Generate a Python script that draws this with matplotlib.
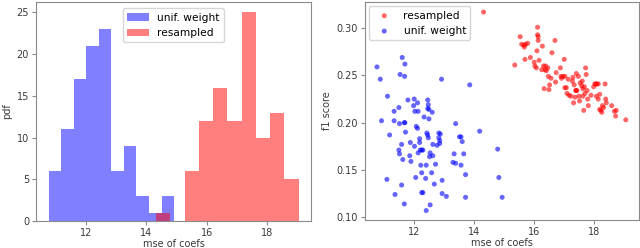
import matplotlib
matplotlib.use("Agg")
import matplotlib.pyplot as plt
import numpy as np

# Histogram data (counts per bin)
unif_edges = np.linspace(10.77, 14.92, 11)
unif_counts = [6, 11, 17, 21, 23, 6, 9, 3, 1, 3]
res_edges = np.linspace(14.33, 19.03, 11)
res_counts = [1, 0, 6, 12, 16, 12, 25, 10, 13, 5]

# Scatter data
unif_x = [10.77, 10.88, 10.92, 11.12, 11.19, 11.10, 11.37, 11.34, 11.34, 11.50, 11.52, 11.50,
          11.52, 11.59, 11.63, 11.59, 11.68, 11.54, 11.61, 11.70, 11.69, 11.68, 11.70, 11.72,
          11.80, 11.88, 11.86, 11.90, 12.01, 11.99, 12.03, 12.12, 12.14, 12.08, 12.12, 12.02,
          12.06, 12.14, 12.19, 12.19, 12.21, 12.26, 12.30, 12.23, 12.26, 12.26, 12.30, 12.34,
          12.39, 12.41, 12.41, 12.46, 12.48, 12.46, 12.50, 12.43, 12.46, 12.48, 12.50, 12.52,
          12.54, 12.59, 12.54, 12.61, 12.63, 12.63, 12.68, 12.72, 12.77, 12.83, 12.83, 12.86,
          12.86, 12.88, 12.94, 12.94, 12.92, 13.08, 13.30, 13.34, 13.39, 13.39, 13.52, 13.57,
          13.61, 13.57, 13.66, 13.72, 13.72, 13.86, 14.19, 14.79, 14.83, 14.94]
unif_y = [0.259, 0.246, 0.202, 0.228, 0.187, 0.140, 0.124, 0.212, 0.202, 0.216, 0.199, 0.171,
          0.167, 0.177, 0.161, 0.134, 0.114, 0.251, 0.269, 0.262, 0.249, 0.200, 0.200, 0.190,
          0.224, 0.179, 0.165, 0.159, 0.225, 0.218, 0.212, 0.221, 0.212, 0.196, 0.194, 0.175,
          0.142, 0.168, 0.183, 0.179, 0.171, 0.171, 0.171, 0.155, 0.147, 0.126, 0.126, 0.206,
          0.141, 0.155, 0.107, 0.224, 0.219, 0.215, 0.214, 0.189, 0.187, 0.184, 0.204, 0.164,
          0.168, 0.147, 0.113, 0.211, 0.177, 0.165, 0.135, 0.156, 0.176, 0.189, 0.184, 0.181,
          0.178, 0.188, 0.139, 0.125, 0.246, 0.122, 0.158, 0.167, 0.157, 0.199, 0.185, 0.185,
          0.180, 0.155, 0.167, 0.121, 0.145, 0.240, 0.191, 0.172, 0.142, 0.121]

res_x = [14.32, 15.36, 15.54, 15.59, 15.66, 15.72, 15.79, 15.68, 15.70, 15.88, 16.01, 16.03,
         16.08, 16.10, 16.12, 16.12, 16.14, 16.14, 16.17, 16.28, 16.26, 16.32, 16.34, 16.37,
         16.39, 16.41, 16.46, 16.48, 16.50, 16.52, 16.57, 16.60, 16.70, 16.72, 16.74, 16.88,
         16.90, 16.92, 16.97, 17.01, 17.03, 17.03, 17.08, 17.10, 17.14, 17.17, 17.23, 17.28,
         17.30, 17.32, 17.34, 17.37, 17.39, 17.41, 17.43, 17.48, 17.50, 17.52, 17.54, 17.59,
         17.61, 17.63, 17.63, 17.66, 17.68, 17.70, 17.72, 17.74, 17.77, 17.79, 17.81, 18.03,
         18.06, 18.10, 18.14, 18.08, 18.14, 18.19, 18.19, 18.23, 18.26, 18.28, 18.32, 18.37,
         18.39, 18.41, 18.59, 18.68, 18.74, 18.72, 19.06, 17.99, 17.90, 17.41]
res_y = [0.317, 0.261, 0.291, 0.283, 0.282, 0.283, 0.284, 0.280, 0.267, 0.269, 0.264, 0.260,
         0.258, 0.276, 0.301, 0.293, 0.291, 0.287, 0.266, 0.281, 0.256, 0.260, 0.236, 0.256,
         0.260, 0.255, 0.258, 0.249, 0.235, 0.240, 0.247, 0.274, 0.287, 0.243, 0.253, 0.258,
         0.249, 0.247, 0.249, 0.267, 0.249, 0.237, 0.237, 0.231, 0.246, 0.229, 0.228, 0.244,
         0.248, 0.221, 0.240, 0.227, 0.234, 0.234, 0.234, 0.249, 0.228, 0.223, 0.242, 0.239,
         0.244, 0.236, 0.228, 0.213, 0.238, 0.231, 0.258, 0.251, 0.234, 0.225, 0.218, 0.241,
         0.241, 0.241, 0.241, 0.228, 0.225, 0.230, 0.214, 0.213, 0.211, 0.218, 0.216, 0.241,
         0.225, 0.221, 0.218, 0.212, 0.213, 0.207, 0.203, 0.238, 0.229, 0.252]

plt.rcParams['font.family'] = 'DejaVu Sans'
plt.rcParams['font.size'] = 7
spine_c = '#8a8a8a'
text_c = '#3a3a3a'

fig = plt.figure(figsize=(6.4, 2.48), dpi=100)
ax1 = fig.add_axes([36/640, 27/248, 275/640, 219/248])
ax2 = fig.add_axes([365/640, 28/248, 274/640, 218/248])

ax1.hist((unif_edges[:-1] + unif_edges[1:]) / 2, bins=unif_edges, weights=unif_counts,
         color='blue', alpha=0.5, label='unif. weight')
ax1.hist((res_edges[:-1] + res_edges[1:]) / 2, bins=res_edges, weights=res_counts,
         color='red', alpha=0.5, label='resampled')
ax1.set_xlabel('mse of coefs', color=text_c, labelpad=0.5)
ax1.set_ylabel('pdf', color=text_c, labelpad=3)
ax1.set_xticks([12, 14, 16, 18])
ax1.set_yticks([0, 5, 10, 15, 20, 25])
ax1.legend(loc='upper center', fontsize=7.7, borderaxespad=0.6)

ax2.scatter(res_x, res_y, s=13, color='red', alpha=0.6, edgecolors='none', label='resampled')
ax2.scatter(unif_x, unif_y, s=13, color='blue', alpha=0.6, edgecolors='none', label='unif. weight')
ax2.set_xlabel('mse of coefs', color=text_c, labelpad=0.5)
ax2.set_ylabel('f1 score', color=text_c, labelpad=3)
ax2.set_xticks([12, 14, 16, 18])
ax2.set_yticks([0.10, 0.15, 0.20, 0.25, 0.30])
ax2.set_xlim(10.37, 19.5)
ax2.set_ylim(0.097, 0.3277)
ax2.legend(loc='upper left', fontsize=7.7, borderaxespad=0.4)

for ax in (ax1, ax2):
    for s in ax.spines.values():
        s.set_color(spine_c)
    ax.tick_params(colors=spine_c, labelcolor=text_c, labelsize=7, length=3, pad=2)

fig.savefig('out.png', dpi=100)
